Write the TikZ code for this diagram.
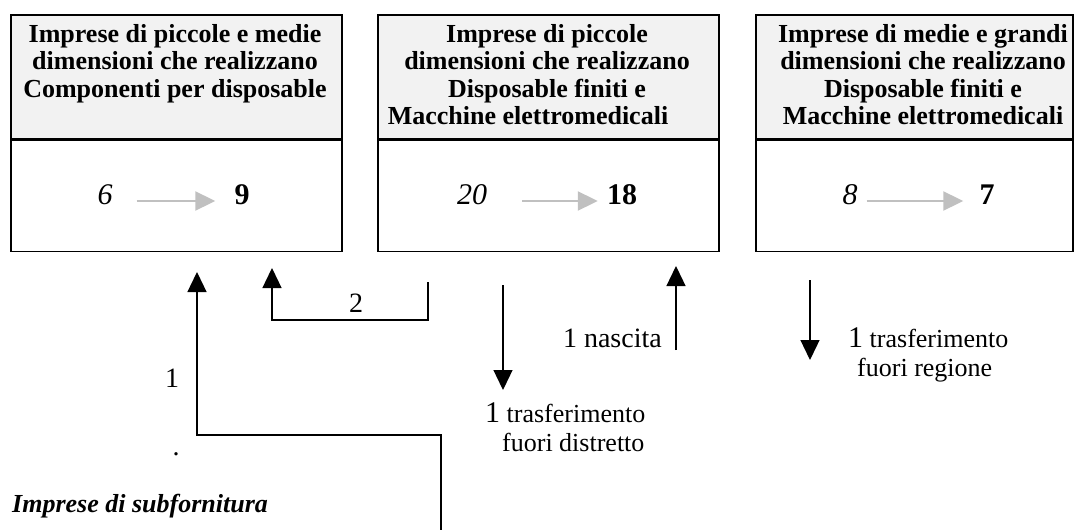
\documentclass[tikz,border=0pt]{standalone}
\usepackage{fontspec}
\setmainfont{Liberation Serif}
\usetikzlibrary{arrows.meta,positioning}
\definecolor{headgray}{HTML}{F2F2F2}
\definecolor{trendgray}{HTML}{C0C0C0}

\begin{document}
\begin{tikzpicture}[x=1pt,y=-1pt,
    headbox/.style={draw, line width=1.5pt, fill=headgray, anchor=north west,
      inner sep=0pt, minimum height=124pt},
    bodybox/.style={draw, line width=1.5pt, anchor=north west,
      inner sep=0pt, minimum height=111pt},
    headtext/.style={anchor=north, inner sep=0pt, align=center,
      font=\bfseries\fontsize{26}{27.5}\selectfont},
    oldnum/.style={inner sep=0pt, anchor=base, font=\itshape\fontsize{30}{32}\selectfont},
    newnum/.style={inner sep=0pt, anchor=base, font=\bfseries\fontsize{30}{32}\selectfont},
    trend/.style={draw=trendgray, line width=2pt,
      -{Triangle[width=19pt,length=20pt]}},
    flow/.style={draw, line width=1.3pt,
      -{Triangle[width=19pt,length=20pt]}},
    flowlabel/.style={inner sep=0pt, anchor=base, font=\fontsize{28}{30}\selectfont},
    note/.style={inner sep=0pt, anchor=base west, align=left,
      font=\fontsize{26}{29}\selectfont}]
  \useasboundingbox (0,0) rectangle (1074,530);

  % the three groups of firms
  \node[headbox, minimum width=331pt] (h1) at (10,14) {};
  \node[bodybox, minimum width=331pt] (b1) at (h1.south west) {};
  \node[headbox, minimum width=341pt] (h2) at (377,14) {};
  \node[bodybox, minimum width=341pt] (b2) at (h2.south west) {};
  \node[headbox, minimum width=317pt] (h3) at (755,14) {};
  \node[bodybox, minimum width=317pt] (b3) at (h3.south west) {};

  \node[headtext] (t1) at (175,24) {Imprese di piccole e medie\\dimensioni che realizzano\\Componenti per disposable};
  \node[headtext] (t2) at (547,24) {Imprese di piccole\\dimensioni che realizzano\\Disposable finiti e\\Macchine elettromedicali\hspace*{38pt}};
  \node[headtext] (t3) at (923,24) {Imprese di medie e grandi\\dimensioni che realizzano\\Disposable finiti e\\Macchine elettromedicali};

  % counts before and after
  \node[oldnum] (o1) at (105,204) {6};
  \node[newnum] (n1) at (242,204) {9};
  \draw[trend, shorten <=24pt, shorten >=19pt] ([yshift=3pt]o1.base east) -- ([yshift=3pt]n1.base west);
  \node[oldnum] (o2) at (472,204) {20};
  \node[newnum] (n2) at (622,204) {18};
  \draw[trend, shorten <=35pt, shorten >=9pt] ([yshift=3pt]o2.base east) -- ([yshift=3pt]n2.base west);
  \node[oldnum] (o3) at (850,204) {8};
  \node[newnum] (n3) at (987,204) {7};
  \draw[trend, shorten <=9pt, shorten >=16pt] ([yshift=3pt]o3.base east) -- ([yshift=3pt]n3.base west);

  % movements between the groups
  \node[inner sep=0pt, font=\bfseries\itshape\fontsize{26}{28}\selectfont,
    anchor=base west] (sub) at (12,512) {Imprese di subfornitura};
  \node[flowlabel] (l1) at (172,387) {1};
  \node[flowlabel] (dot) at (176,455) {.};
  \coordinate (s1) at (441,530);
  \coordinate (k1) at (197,435);
  \draw[flow] (s1) |- (k1) -- ([yshift=-20pt]b1.south -| k1);

  \node[flowlabel] (l2) at (356,312) {2};
  \coordinate (s2) at (428,282);
  \coordinate (k2) at (272,320);
  \draw[flow] (s2) |- (k2) -- ([yshift=-16pt]b1.south -| k2);

  \node[note] (l3) at (485,451) {{\fontsize{30}{30}\selectfont 1} trasferimento\\\hspace*{17pt}fuori distretto};
  \coordinate (s3) at (503,285);
  \draw[flow] (s3) -- ([yshift=-138pt]b2.south -| s3);

  \node[flowlabel, anchor=base east] (l4) at (662,347) {1 nascita};
  \coordinate (s4) at (676,350);
  \draw[flow] (s4) -- ([yshift=-14pt]b2.south -| s4);

  \node[note] (l5) at (848,376) {{\fontsize{30}{30}\selectfont 1} trasferimento\\\hspace*{9pt}fuori regione};
  \coordinate (s5) at (810,280);
  \draw[flow] (s5) -- ([yshift=-108pt]b3.south -| s5);
\end{tikzpicture}
\end{document}
